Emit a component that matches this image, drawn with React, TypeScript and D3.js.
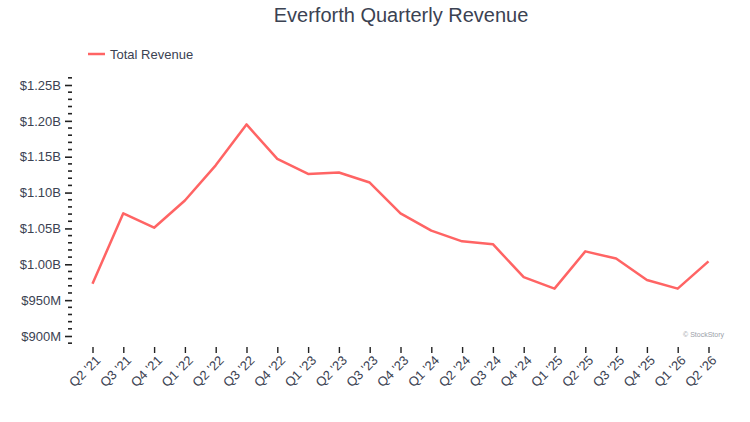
import React, { useEffect, useRef } from "react";
import * as d3 from "d3";

// quarters on the x axis
const quarters: string[] = [
  "Q2 '21", "Q3 '21", "Q4 '21", "Q1 '22", "Q2 '22", "Q3 '22", "Q4 '22",
  "Q1 '23", "Q2 '23", "Q3 '23", "Q4 '23", "Q1 '24", "Q2 '24", "Q3 '24",
  "Q4 '24", "Q1 '25", "Q2 '25", "Q3 '25", "Q4 '25", "Q1 '26", "Q2 '26",
];

// total revenue, millions of dollars
const revenue: number[] = [
  973, 1071, 1051, 1089, 1138, 1195, 1147,
  1126, 1128, 1114, 1071, 1047, 1032, 1028,
  982, 966, 1018, 1008, 978, 966, 1004,
];

const majorTicks: number[] = [900, 950, 1000, 1050, 1100, 1150, 1200, 1250];
const minorTicks: number[] = d3.range(890, 1261, 10);

const W = 750;
const H = 422;
const FONT = "'Liberation Sans', Arial, Helvetica, sans-serif";
const TEXT = "#3b4252";
const LINE = "#ff6464";

const fmtMoney = (v: number) =>
  v >= 1000 ? `$${(v / 1000).toFixed(2)}B` : `$${v}M`;

const App: React.FC = () => {
  const svgRef = useRef<SVGSVGElement | null>(null);

  useEffect(() => {
    if (!svgRef.current) return;
    const svg = d3.select(svgRef.current);
    svg.selectAll("*").remove();

    const x = d3.scalePoint<string>().domain(quarters).range([92.5, 708.5]);
    const y = d3.scaleLinear().domain([900, 1250]).range([336, 85]);

    // title
    svg.append("text")
      .attr("x", 401)
      .attr("y", 22)
      .attr("text-anchor", "middle")
      .style("font-family", FONT)
      .style("font-size", "20px")
      .style("fill", TEXT)
      .text("Everforth Quarterly Revenue");

    // legend
    svg.append("line")
      .attr("x1", 88).attr("x2", 105)
      .attr("y1", 54).attr("y2", 54)
      .attr("stroke", LINE)
      .attr("stroke-width", 2.5);
    svg.append("text")
      .attr("x", 110)
      .attr("y", 58.5)
      .style("font-family", FONT)
      .style("font-size", "13px")
      .style("fill", TEXT)
      .text("Total Revenue");

    // y axis: minor ticks
    const axisX = 72;
    svg.append("g")
      .selectAll("line")
      .data(minorTicks.filter((d) => !majorTicks.includes(d)))
      .enter()
      .append("line")
      .attr("x1", axisX - 4)
      .attr("x2", axisX)
      .attr("y1", (d) => y(d))
      .attr("y2", (d) => y(d))
      .attr("stroke", "#222")
      .attr("stroke-width", 1.6);

    // y axis: major ticks with labels
    const yAxis = svg.append("g")
      .attr("transform", `translate(${axisX},0)`)
      .call(
        d3.axisLeft(y)
          .tickValues(majorTicks)
          .tickSize(7)
          .tickPadding(4)
          .tickFormat((d) => fmtMoney(d as number))
      );
    yAxis.select(".domain").remove();
    yAxis.selectAll(".tick line").attr("stroke", "#222").attr("stroke-width", 1.6);
    yAxis.selectAll("text")
      .style("font-family", FONT)
      .style("font-size", "13px")
      .style("fill", TEXT);

    // x axis
    const xAxis = svg.append("g")
      .attr("transform", "translate(0,347)")
      .call(d3.axisBottom(x).tickSize(6).tickPadding(6));
    xAxis.select(".domain").remove();
    xAxis.selectAll(".tick line").attr("stroke", "#222").attr("stroke-width", 1.4);
    xAxis.selectAll("text")
      .style("font-family", FONT)
      .style("font-size", "13px")
      .style("fill", TEXT)
      .attr("text-anchor", "end")
      .attr("dx", "-4px")
      .attr("dy", "0.3em")
      .attr("transform", "rotate(-45)");

    // revenue line
    const line = d3.line<number>()
      .x((_, i) => x(quarters[i]) ?? 0)
      .y((d) => y(d));
    svg.append("path")
      .datum(revenue)
      .attr("d", line)
      .attr("fill", "none")
      .attr("stroke", LINE)
      .attr("stroke-width", 2.5)
      .attr("stroke-linejoin", "round");

    // watermark
    svg.append("text")
      .attr("x", 724)
      .attr("y", 337)
      .attr("text-anchor", "end")
      .style("font-family", FONT)
      .style("font-size", "7px")
      .style("fill", "#9aa0a8")
      .text("© StockStory");
  }, []);

  return (
    <svg
      ref={svgRef}
      width={W}
      height={H}
      style={{ position: "absolute", left: 0, top: 0, background: "#fff" }}
    />
  );
};

export default App;
